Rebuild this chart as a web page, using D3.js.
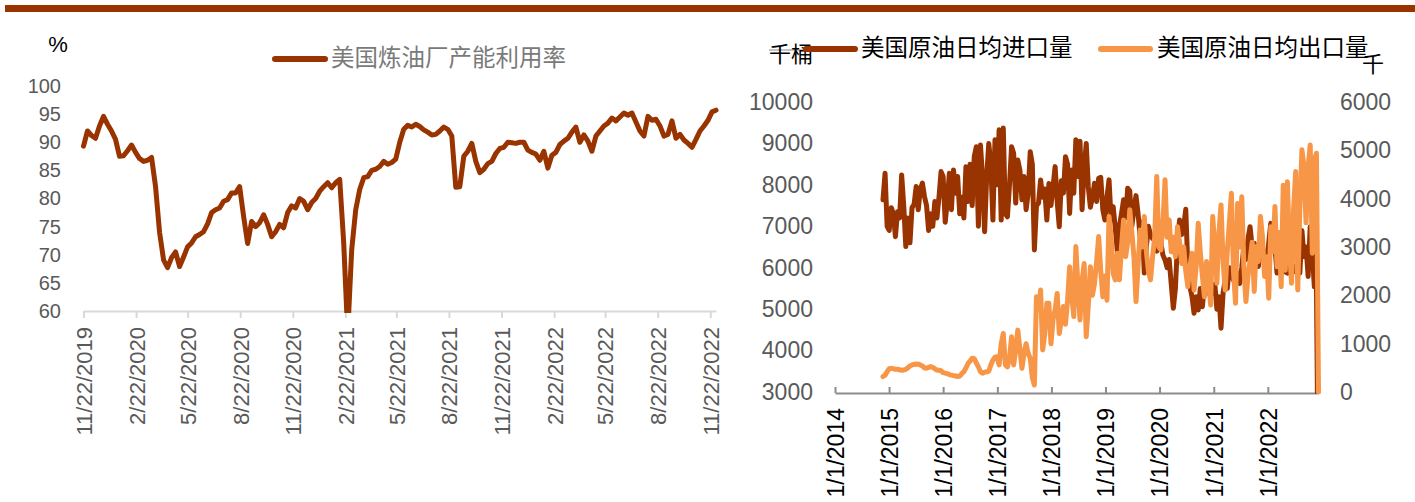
<!DOCTYPE html>
<html>
<head>
<meta charset="utf-8">
<script src="https://cdn.jsdelivr.net/npm/d3@7"></script>
<style>
body { margin: 0; background: #fff; }
text { font-family: "Liberation Sans", Arial, sans-serif; }
.cjk { font-family: "Noto Sans CJK SC", sans-serif; }
</style>
</head>
<body>
<svg id="chart"></svg>
<script>
// left: refinery utilisation, weekly from 11/22/2019
var utilStart = "11/22/2019";
var utilValues = [
  89.3, 92.0, 91.2, 90.7, 92.9, 94.6, 93.2, 92.0, 90.5, 87.5,
  87.6, 88.5, 89.5, 88.2, 87.1, 86.6, 86.8, 87.3, 82.1, 74.0,
  69.1, 67.7, 69.5, 70.5, 67.9, 69.6, 71.4, 72.1, 73.2, 73.6,
  74.1, 75.5, 77.5, 78.0, 78.3, 79.5, 79.8, 81.0, 81.0, 82.1,
  76.8, 72.0, 75.9, 75.0, 75.7, 77.1, 75.4, 73.2, 74.1, 75.4,
  74.8, 77.5, 78.7, 78.3, 80.0, 79.5, 78.0, 79.3, 80.0, 81.3,
  82.1, 82.8, 81.9, 82.8, 83.4, 72.1, 56.0, 70.9, 78.0, 81.6,
  83.7, 83.9, 85.0, 85.2, 85.7, 86.6, 86.1, 86.4, 87.0, 90.0,
  92.3, 93.0, 92.7, 93.2, 92.8, 92.2, 91.8, 91.3, 91.4, 92.0,
  92.7, 92.3, 91.1, 82.0, 82.1, 87.5, 88.4, 89.8, 86.6, 84.6,
  85.2, 86.2, 86.6, 88.0, 88.9, 89.1, 90.0, 89.9, 89.8, 90.0,
  90.0, 88.6, 88.2, 87.9, 86.8, 88.4, 85.4, 87.7, 88.2, 89.6,
  90.2, 90.7, 91.8, 92.7, 90.0, 91.3, 90.2, 88.4, 91.1, 92.0,
  92.9, 93.4, 94.3, 93.8, 94.5, 95.2, 94.8, 95.2, 93.6, 92.0,
  91.1, 94.6, 93.9, 94.1, 92.9, 91.1, 91.4, 93.8, 90.7, 91.4,
  90.4, 89.8, 89.1, 90.5, 92.0, 92.9, 93.9, 95.4, 95.7
];
var utilTicks = ["11/22/2019", "2/22/2020", "5/22/2020", "8/22/2020", "11/22/2020",
  "2/22/2021", "5/22/2021", "8/22/2021", "11/22/2021", "2/22/2022", "5/22/2022",
  "8/22/2022", "11/22/2022"];
var utilYTicks = [60, 65, 70, 75, 80, 85, 90, 95, 100];

// right: crude imports / exports, every two weeks from 11/21/2014
var tradeStart = "11/21/2014";
var importValues = [
  7640, 8280, 7000, 6900, 7450, 7300, 6750, 7350, 7200, 8240,
  7500, 6510, 7200, 6600, 7450, 7530, 7960, 7400, 7900, 8040,
  7720, 7500, 6900, 7300, 7000, 7600, 7200, 7700, 8320, 8200,
  7100, 7600, 8280, 7400, 8360, 7800, 8200, 7300, 7700, 7200,
  8440, 7600, 8500, 7500, 8680, 8920, 7000, 8960, 8200, 6870,
  8200, 9000, 8500, 7150, 9090, 8000, 9330, 7150, 9370, 7300,
  7230, 8000, 8920, 8760, 7560, 8600, 8360, 7640, 8200, 7400,
  7800, 8800, 8500, 6430, 7500, 7560, 8120, 7700, 7900, 7150,
  8030, 7500, 7960, 8440, 7600, 6990, 8100, 7800, 8680, 8500,
  7310, 8360, 7800, 9090, 8200, 9050, 7400, 8400, 9000, 7950,
  7460, 7700, 8040, 7600, 8160, 8180, 7400, 7150, 7700, 8120,
  7150, 7470, 6960, 6400, 7000, 7300, 7640, 7200, 7920, 7850,
  7000, 7400, 7740, 7300, 6750, 7100, 5870, 6500, 7000, 6800,
  6700, 6670, 6400, 6510, 6600, 6300, 6190, 6000, 6200, 5600,
  5020, 5500, 6600, 7150, 6800, 7000, 7410, 6000, 5540, 5300,
  4900, 5300, 4980, 5500, 5060, 5600, 5380, 5700, 5400, 5380,
  5600, 5000, 5300, 4540, 5400, 5700, 5500, 6000, 5950, 5700,
  5800, 5870, 5620, 6000, 6510, 6200, 6700, 6990, 6500, 6590,
  6300, 6030, 6400, 6510, 6200, 6000, 6600, 7070, 6800, 6510,
  5870, 6000, 6200, 6030, 5900, 5870, 6100, 6000, 5900, 6030,
  6100, 5870, 6900, 6270, 6500, 5790, 6990, 6400, 5540, 5600, 0
];
var exportValues = [
  320, 350, 420, 480, 490, 480, 470, 470, 460, 450,
  455, 470, 500, 540, 560, 570, 580, 575, 560, 540,
  500, 490, 510, 525, 510, 480, 455, 450, 440, 400,
  390, 380, 360, 350, 340, 330, 320, 330, 380, 420,
  500, 590, 640, 700, 690, 600, 520, 420, 390, 410,
  420, 430, 560, 660, 720, 730, 560, 1000, 1210, 560,
  520, 700, 1145, 560, 870, 1280, 900, 490, 800, 1000,
  800, 700, 300, 145, 1970, 1700, 2110, 870, 1200, 1835,
  1835, 1000, 1500, 1700, 2040, 1210, 1500, 1770, 1400, 1900,
  2590, 2000, 1560, 3010, 2200, 1490, 2300, 2660, 1145, 1800,
  2590, 2000, 2250, 2700, 3215, 2500, 1970, 2400, 1900, 3630,
  3200, 2450, 2320, 2870, 2320, 3000, 3560, 2800, 3100, 3770,
  3300, 2800, 1870, 2600, 3350, 3000, 3630, 2900, 2500, 2320,
  2800, 3200, 4460, 3000, 2940, 3500, 4390, 3200, 3560, 2900,
  3200, 2800, 3420, 3100, 2660, 3000, 2500, 2180, 2600, 2870,
  2110, 2600, 3490, 2900, 2400, 1970, 2700, 2300, 1800, 3630,
  3000, 2250, 3300, 3870, 2700, 2110, 2900, 3500, 4110, 2500,
  1835, 3900, 3000, 4040, 2600, 1870, 2400, 2730, 3100, 2080,
  3010, 2700, 3630, 3200, 2390, 2800, 1940, 3420, 2900, 3840,
  2590, 3300, 2180, 4280, 2520, 4350, 3000, 2250, 3800, 4560,
  2110, 3800, 5010, 4660, 3500, 4660, 5110, 2870, 4800, 4940, 0
];
var tradeTicks = ["1/1/2014", "1/1/2015", "1/1/2016", "1/1/2017", "1/1/2018",
  "1/1/2019", "1/1/2020", "1/1/2021", "1/1/2022"];
var importYTicks = [3000, 4000, 5000, 6000, 7000, 8000, 9000, 10000];
var exportYTicks = [0, 1000, 2000, 3000, 4000, 5000, 6000];

var darkRed = "#993300";
var orange = "#F79646";
var parse = d3.timeParse("%m/%d/%Y");

var svg = d3.select("#chart")
    .attr("width", 1415)
    .attr("height", 502);

// top rule
svg.append("rect")
    .attr("x", 5).attr("y", 5)
    .attr("width", 1410).attr("height", 7)
    .attr("fill", darkRed);

var defs = svg.append("defs");
defs.append("clipPath").attr("id", "clipL")
  .append("rect").attr("x", 70).attr("y", 60).attr("width", 660).attr("height", 253);
defs.append("clipPath").attr("id", "clipR")
  .append("rect").attr("x", 820).attr("y", 60).attr("width", 510).attr("height", 334);

////////////////////////// left chart //////////////////////////
var t0 = parse(utilStart);
var utilData = utilValues.map(function(v, i) {
  return {date: d3.timeDay.offset(t0, 7 * i), value: v};
});

var xL = d3.scaleTime()
    .domain([t0, utilData[utilData.length - 1].date])
    .range([83.5, 716]);
var yL = d3.scaleLinear()
    .domain([60, 100])
    .range([311, 86]);

var xAxisL = d3.axisBottom(xL)
    .tickValues(utilTicks.map(parse))
    .tickFormat(d3.timeFormat("%-m/%-d/%Y"))
    .tickSizeInner(7)
    .tickSizeOuter(0);

var gxL = svg.append("g")
    .attr("transform", "translate(0,311)")
    .call(xAxisL);
gxL.select(".domain").attr("stroke", "#d9d9d9").attr("stroke-width", 2);
gxL.selectAll(".tick line").attr("stroke", "#d9d9d9").attr("stroke-width", 2);
gxL.selectAll(".tick text")
    .attr("transform", "rotate(-90)")
    .attr("x", -16)
    .attr("y", 0)
    .attr("dy", "0.36em")
    .style("text-anchor", "end")
    .style("font-size", "22px")
    .attr("fill", "#595959");

var gyL = svg.append("g")
    .attr("transform", "translate(61,0)")
    .call(d3.axisLeft(yL).tickValues(utilYTicks).tickFormat(d3.format("d")).tickSize(0).tickPadding(0));
gyL.select(".domain").remove();
gyL.selectAll(".tick text")
    .style("font-size", "20px")
    .attr("fill", "#595959");

svg.append("text")
    .attr("x", 58).attr("y", 44)
    .attr("dy", "0.36em")
    .style("text-anchor", "middle")
    .style("font-size", "22px")
    .text("%");

svg.append("path")
    .datum(utilData)
    .attr("clip-path", "url(#clipL)")
    .attr("fill", "none")
    .attr("stroke", darkRed)
    .attr("stroke-width", 5)
    .attr("stroke-linejoin", "round")
    .attr("stroke-linecap", "round")
    .attr("d", d3.line()
      .x(function(d) { return xL(d.date); })
      .y(function(d) { return yL(d.value); }));

// legend
svg.append("line")
    .attr("x1", 275).attr("x2", 325).attr("y1", 59).attr("y2", 59)
    .attr("stroke", darkRed).attr("stroke-width", 6).attr("stroke-linecap", "round");
svg.append("text")
    .attr("class", "cjk")
    .attr("x", 331).attr("y", 58)
    .attr("dy", "0.36em")
    .style("font-size", "23.5px")
    .attr("fill", "#7a7a7a")
    .text("美国炼油厂产能利用率");

////////////////////////// right chart //////////////////////////
var t1 = parse(tradeStart);
var tradeData = importValues.map(function(v, i) {
  return {date: d3.timeDay.offset(t1, 14 * i), imp: v, exp: exportValues[i]};
});
var tEnd = tradeData[tradeData.length - 1].date;

var xR = d3.scaleTime()
    .domain([parse("1/1/2014"), tEnd])
    .range([835, 1318.5]);
var yR1 = d3.scaleLinear()
    .domain([3000, 10000])
    .range([392, 102]);
var yR2 = d3.scaleLinear()
    .domain([0, 6000])
    .range([392, 102]);

var tickDates = tradeTicks.map(parse).concat([tEnd]);
var gxR = svg.append("g")
    .attr("transform", "translate(0,393)")
    .call(d3.axisBottom(xR)
      .tickValues(tickDates)
      .tickFormat(function(d, i) { return i < tradeTicks.length ? tradeTicks[i] : ""; })
      .tickSizeInner(-6)
      .tickSizeOuter(0));
gxR.select(".domain").attr("stroke", "#8c8c8c").attr("stroke-width", 2);
gxR.selectAll(".tick line").attr("stroke", "#8c8c8c").attr("stroke-width", 2);
gxR.selectAll(".tick text")
    .attr("transform", "rotate(-90)")
    .attr("x", -15)
    .attr("y", 0)
    .attr("dy", "0.36em")
    .style("text-anchor", "end")
    .style("font-size", "23px")
    .attr("fill", "#000");

var gyR1 = svg.append("g")
    .attr("transform", "translate(813,0)")
    .call(d3.axisLeft(yR1).tickValues(importYTicks).tickFormat(d3.format("d")).tickSize(0).tickPadding(0));
gyR1.select(".domain").remove();
gyR1.selectAll(".tick text").style("font-size", "23px").attr("fill", "#595959");

var gyR2 = svg.append("g")
    .attr("transform", "translate(1340,0)")
    .call(d3.axisRight(yR2).tickValues(exportYTicks).tickFormat(d3.format("d")).tickSize(0).tickPadding(0));
gyR2.select(".domain").remove();
gyR2.selectAll(".tick text").style("font-size", "23px").attr("fill", "#595959");

svg.append("path")
    .datum(tradeData)
    .attr("clip-path", "url(#clipR)")
    .attr("fill", "none")
    .attr("stroke", darkRed)
    .attr("stroke-width", 5)
    .attr("stroke-linejoin", "round")
    .attr("stroke-linecap", "round")
    .attr("d", d3.line()
      .x(function(d) { return xR(d.date); })
      .y(function(d) { return yR1(d.imp); }));

svg.append("path")
    .datum(tradeData)
    .attr("clip-path", "url(#clipR)")
    .attr("fill", "none")
    .attr("stroke", orange)
    .attr("stroke-width", 5)
    .attr("stroke-linejoin", "round")
    .attr("stroke-linecap", "round")
    .attr("d", d3.line()
      .x(function(d) { return xR(d.date); })
      .y(function(d) { return yR2(d.exp); }));

// units and legend
svg.append("line")
    .attr("x1", 769).attr("x2", 806).attr("y1", 50).attr("y2", 50)
    .attr("stroke", "#b0b0b0").attr("stroke-width", 1.5);
svg.append("text")
    .attr("class", "cjk")
    .attr("x", 769).attr("y", 54)
    .attr("dy", "0.36em")
    .style("font-size", "22px")
    .text("千桶");
svg.append("text")
    .attr("class", "cjk")
    .attr("x", 1362).attr("y", 64)
    .attr("dy", "0.36em")
    .style("font-size", "22px")
    .text("千");

svg.append("line")
    .attr("x1", 806).attr("x2", 855).attr("y1", 49).attr("y2", 49)
    .attr("stroke", darkRed).attr("stroke-width", 6).attr("stroke-linecap", "round");
svg.append("text")
    .attr("class", "cjk")
    .attr("x", 861).attr("y", 48)
    .attr("dy", "0.36em")
    .style("font-size", "23.5px")
    .text("美国原油日均进口量");
svg.append("line")
    .attr("x1", 1101).attr("x2", 1150).attr("y1", 49).attr("y2", 49)
    .attr("stroke", orange).attr("stroke-width", 6).attr("stroke-linecap", "round");
svg.append("text")
    .attr("class", "cjk")
    .attr("x", 1157).attr("y", 48)
    .attr("dy", "0.36em")
    .style("font-size", "23.5px")
    .text("美国原油日均出口量");
</script>
</body>
</html>
